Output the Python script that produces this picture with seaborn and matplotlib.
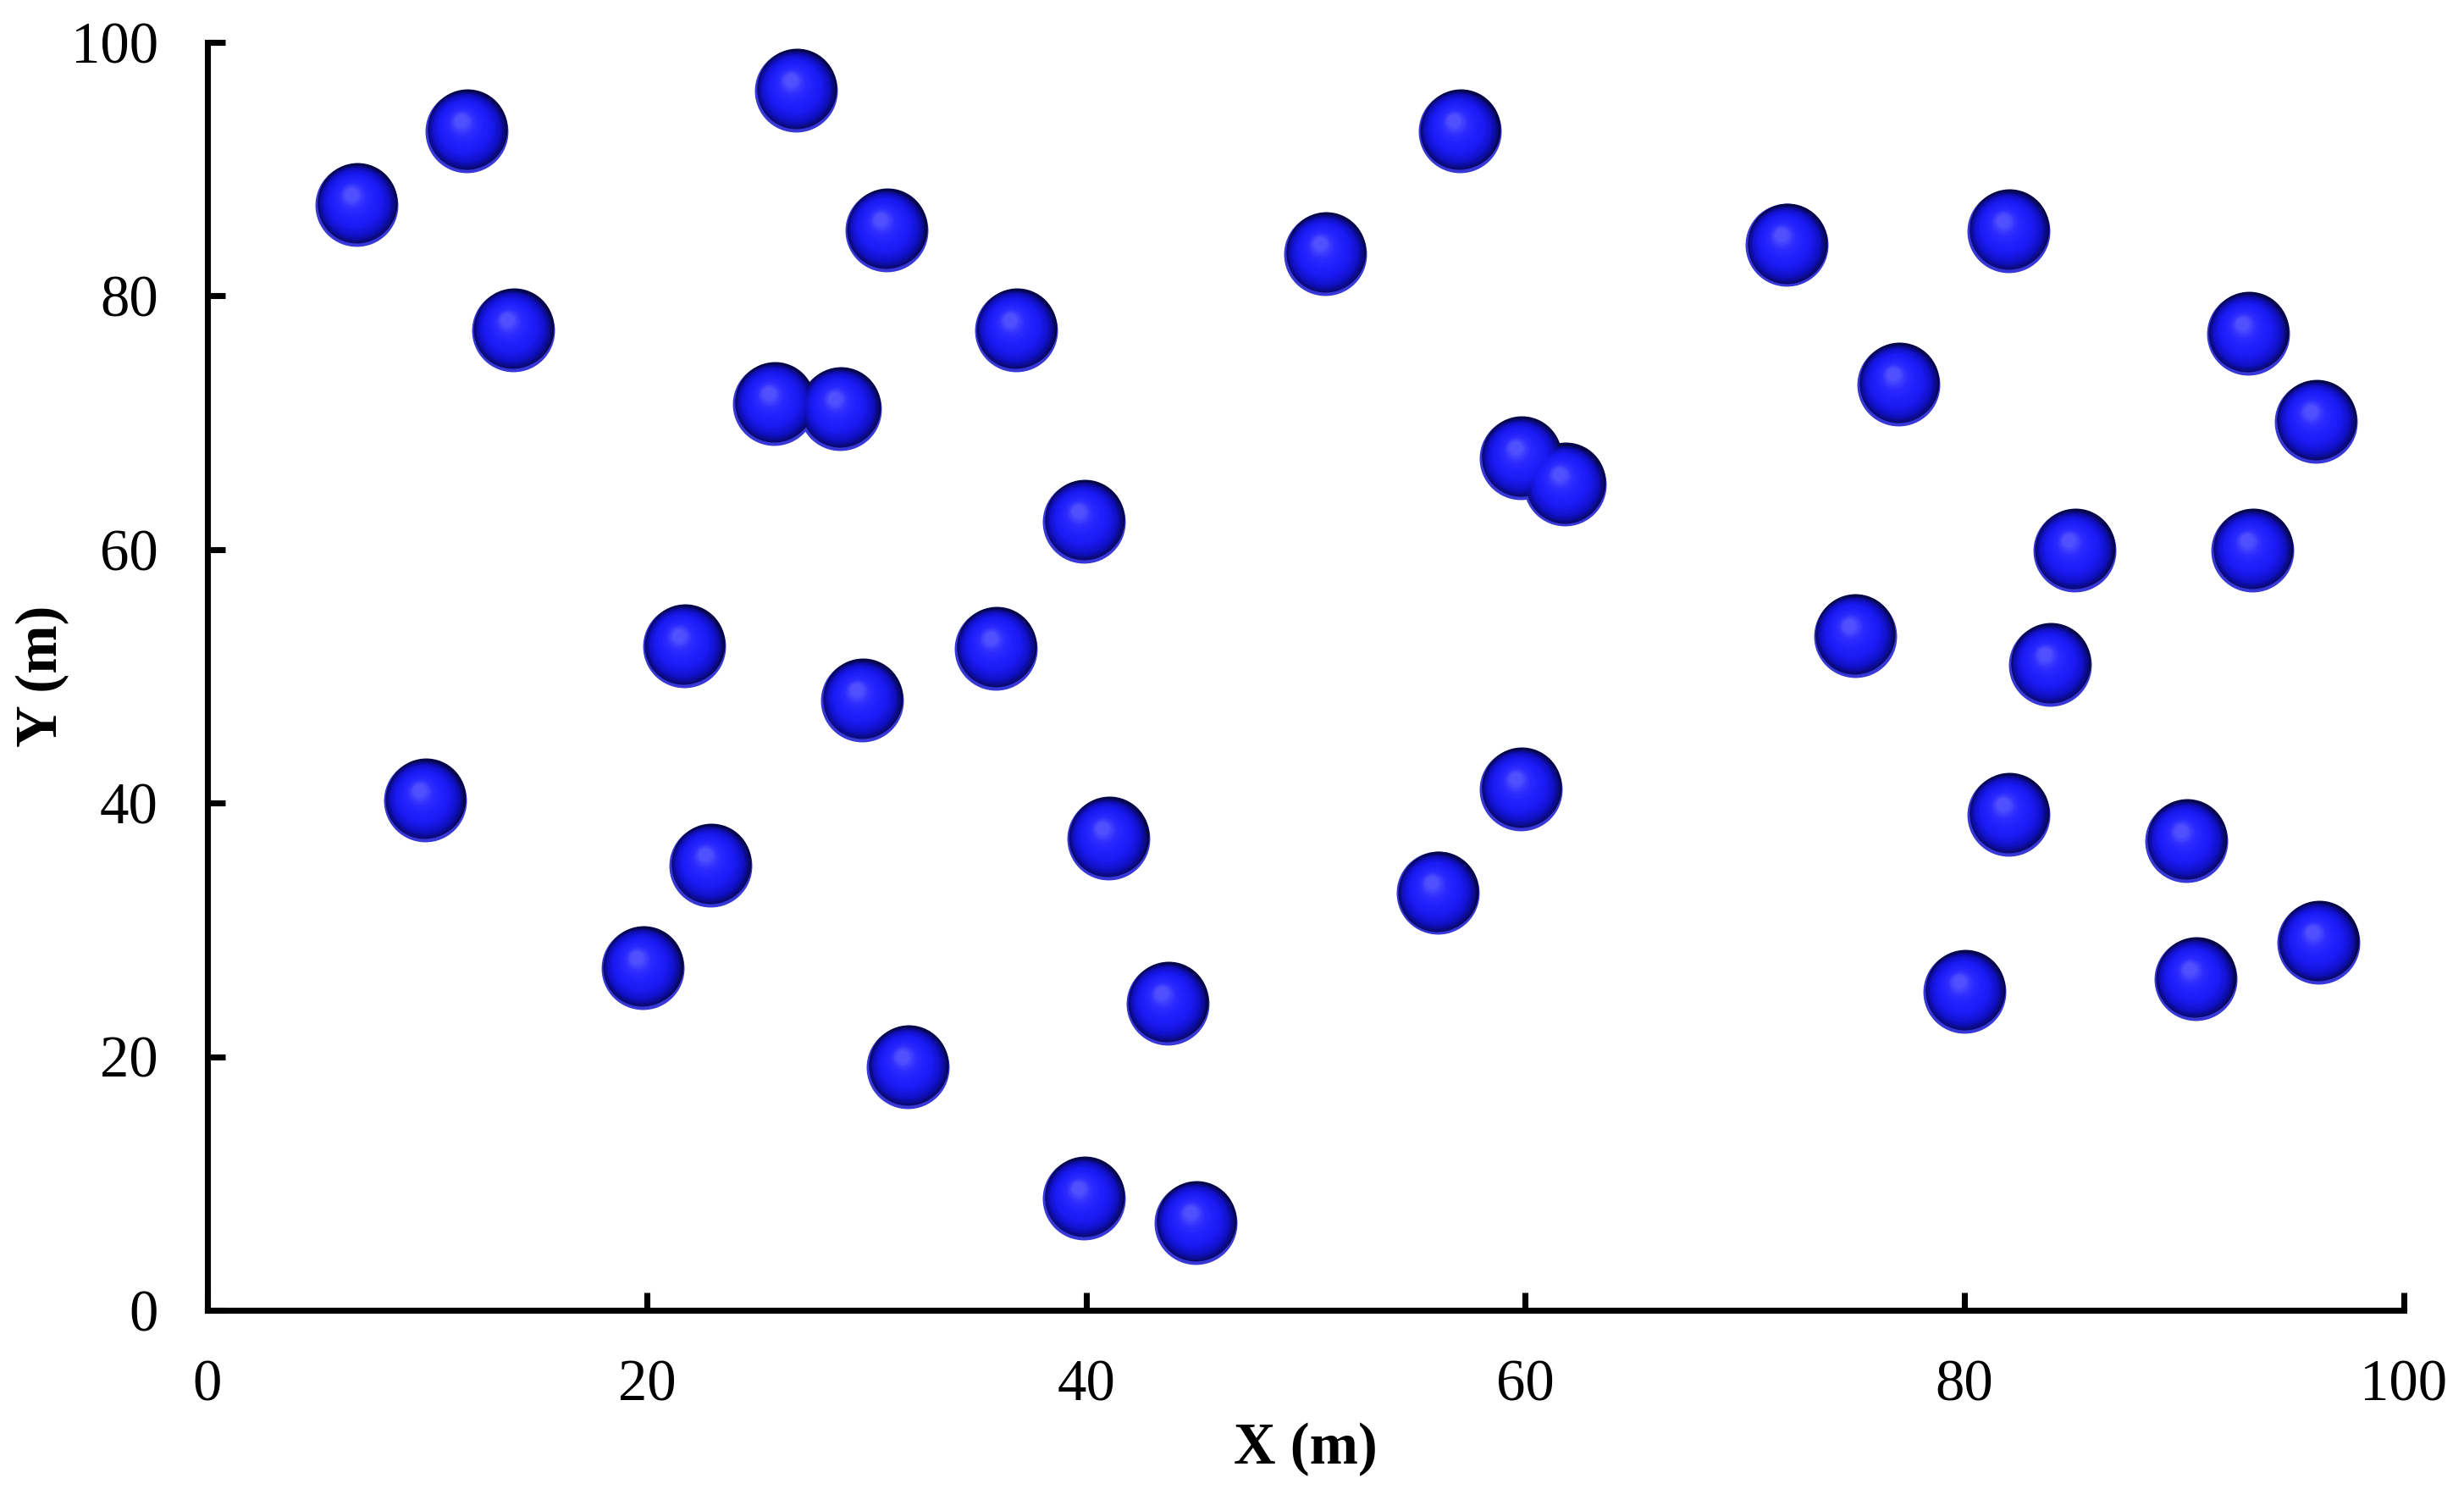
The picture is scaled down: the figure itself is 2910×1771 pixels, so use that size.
import numpy as np
import pandas as pd
import matplotlib
matplotlib.use("Agg")
import matplotlib.pyplot as plt
import seaborn as sns
from matplotlib.transforms import offset_copy
from matplotlib.colors import LinearSegmentedColormap

# node positions (m)
x_pos = [6.8, 11.8, 26.8, 30.9, 13.9, 36.8, 25.8, 28.8, 39.9, 21.7,
         35.9, 29.8, 9.9, 22.9, 41.0, 19.8, 43.7, 31.9, 39.9, 45.0,
         50.9, 57.0, 59.8, 61.8, 59.8, 56.0, 71.9, 82.0, 77.0, 92.9,
         96.0, 85.0, 93.1, 75.0, 83.9, 82.0, 90.1, 80.0, 90.5, 96.1]
y_pos = [87.2, 93.0, 96.2, 85.2, 77.3, 77.3, 71.5, 71.1, 62.2, 52.4,
         52.2, 48.1, 40.2, 35.1, 37.2, 27.0, 24.2, 19.2, 8.8, 6.9,
         83.3, 93.0, 67.2, 65.1, 41.1, 32.9, 84.0, 85.1, 73.0, 77.0,
         70.1, 59.9, 59.9, 53.2, 50.9, 39.1, 37.0, 25.1, 26.1, 29.0]
ticks = [0, 20, 40, 60, 80, 100]

df = pd.DataFrame({"x": x_pos, "y": y_pos})

sns.set_theme(style="ticks", rc={"text.color": "black", "axes.labelcolor": "black"})
plt.rcParams["font.family"] = ["Liberation Serif", "DejaVu Serif"]

fig, ax = plt.subplots(figsize=(9.7, 1771 / 300))
fig.subplots_adjust(left=0.0842, right=0.9756, bottom=0.1265, top=0.9718)

# sphere look: stack of shrinking discs moving towards the highlight
diam = 23.5  # pt
hx, hy = -0.16 * diam / 2, 0.30 * diam / 2
shade = LinearSegmentedColormap.from_list(
    "shade", ["#06064a", "#1010c4", "#1a1af2", "#2020fc", "#2c2cff", "#5050ff"])

sns.scatterplot(data=df, x="x", y="y", ax=ax, s=diam ** 2, color="#3838d8",
                linewidth=0, zorder=3, legend=False)
tr = offset_copy(ax.transData, fig=fig, x=0.02 * diam / 2, y=0.06 * diam / 2, units="points")
sns.scatterplot(data=df, x="x", y="y", ax=ax, s=(0.96 * diam) ** 2,
                color=shade(0.0), linewidth=0, zorder=3, transform=tr, legend=False)

fracs = np.linspace(0.94, 0.15, 26)
for f in fracs:
    t = (1 - f) / (1 - fracs[-1])
    tr = offset_copy(ax.transData, fig=fig, x=hx * (1 - f), y=hy * (1 - f), units="points")
    sns.scatterplot(data=df, x="x", y="y", ax=ax, s=(f * diam) ** 2,
                    color=shade(t), linewidth=0, zorder=3, transform=tr, legend=False)

ax.set_xlim(0, 100)
ax.set_ylim(0, 100)
ax.set_xticks(ticks)
ax.set_yticks(ticks)
sns.despine(ax=ax)
for side in ["left", "bottom"]:
    ax.spines[side].set_linewidth(1.7)
    ax.spines[side].set_color("black")
ax.tick_params(direction="in", length=5, width=1.7, pad=14, labelsize=16.5,
               colors="black")

ax.set_xlabel("X (m)", fontsize=16.5, fontweight="bold")
ax.set_ylabel("Y (m)", fontsize=16.5, fontweight="bold")
ax.xaxis.set_label_coords(0.5, -0.088)
ax.yaxis.set_label_coords(-0.063, 0.5)

fig.savefig("out.png", dpi=300, facecolor="white")
